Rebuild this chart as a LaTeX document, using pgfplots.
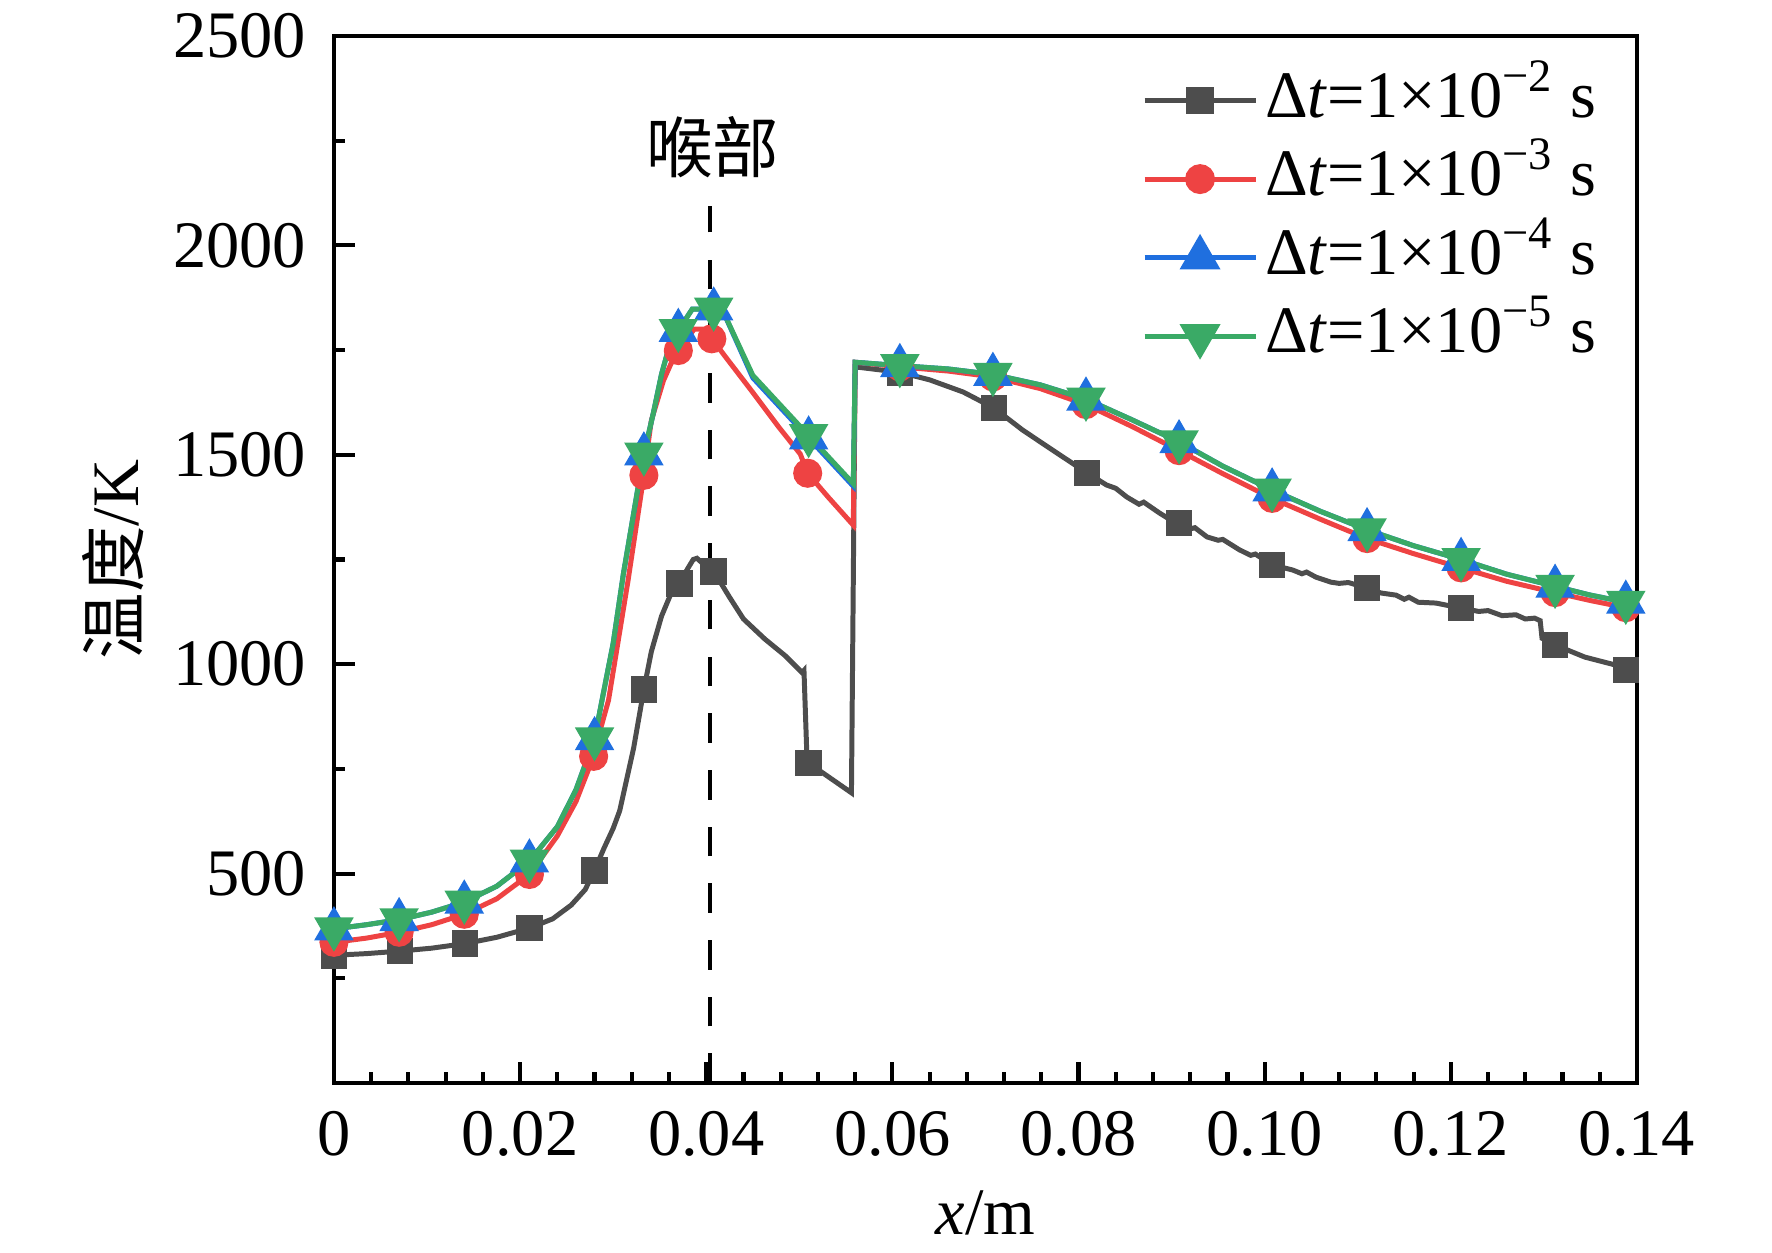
\documentclass[border=0pt]{standalone}
\usepackage{fontspec}
\setmainfont{Liberation Serif}
\newfontfamily\cjk{Noto Sans CJK SC}
\usepackage{pgfplots}
\pgfplotsset{compat=1.18}
\definecolor{cblack}{HTML}{4D4D4D}
\definecolor{cred}{HTML}{EE4343}
\definecolor{cblue}{HTML}{1F6FDF}
\definecolor{cgreen}{HTML}{3AAA66}
\begin{document}
\fontsize{16}{19.2}\selectfont
\begin{tikzpicture}
\path[use as bounding box] (-2.827,-1.431) rectangle (12.173,9.168);
\begin{axis}[
  scale only axis, width=11.03cm, height=8.863cm,
  at={(0,0)}, anchor=south west,
  xmin=0, xmax=0.14, ymin=0, ymax=2500,
  xtick={0,0.02,0.04,0.06,0.08,0.10,0.12,0.14},
  xticklabels={0,0.02,0.04,0.06,0.08,0.10,0.12,0.14},
  ytick={0,500,1000,1500,2000,2500},
  yticklabels={,500,1000,1500,2000,2500},
  minor x tick num=4, minor y tick num=1,
  tick align=inside, xtick pos=bottom, ytick pos=left,
  major tick length=0.18cm, minor tick length=0.09cm,
  tick style={black, line width=1pt},
  line width=1pt,
  axis line style={line width=1pt},
  clip=false,
  tick label style={font=\fontsize{16}{19.2}\selectfont},
  label style={font=\fontsize{16}{19.2}\selectfont},
  xticklabel style={anchor=base, inner sep=0pt, yshift=-0.61cm},
  yticklabel style={anchor=east, inner sep=0pt, xshift=-0.22cm},
  xlabel={\textit{x}/m},
  xlabel style={at={(axis description cs:0.5,-0.1445)}, anchor=base},
  ylabel={{\cjk 温度}/K},
  ylabel style={at={(axis description cs:-0.1695,0.5)}, anchor=center},
  legend image code/.code={\draw[mark repeat=2,mark phase=2,#1] plot coordinates {(0cm,0cm) (0.47cm,0cm) (0.94cm,0cm)};},
  legend cell align=left,
  legend style={draw=none, fill=none, at={(axis cs:0.0866,2430)}, anchor=north west,
    inner sep=0pt, row sep=2.9pt, column sep=0.06cm,
    nodes={inner sep=0pt, text height=12pt, text depth=4pt},
    font=\fontsize{16}{19.2}\selectfont},
]
\addlegendimage{cblack, line width=1.2pt, mark=square*, mark size=2.7pt, mark options={solid}}
\addlegendentry{Δ\textit{t}=1×10\textsuperscript{−2} s}
\addlegendimage{cred, line width=1.2pt, mark=*, mark size=3pt, mark options={solid}}
\addlegendentry{Δ\textit{t}=1×10\textsuperscript{−3} s}
\addlegendimage{cblue, line width=1.2pt, mark=triangle*, mark size=4.5pt, mark options={solid}}
\addlegendentry{Δ\textit{t}=1×10\textsuperscript{−4} s}
\addlegendimage{cgreen, line width=1.2pt, mark=triangle*, mark size=4.5pt, mark options={solid, rotate=180}}
\addlegendentry{Δ\textit{t}=1×10\textsuperscript{−5} s}

% dashed throat line
\addplot[black, line width=1pt, dash pattern=on 0.25cm off 0.23cm, forget plot] coordinates {(0.0404,0) (0.0404,2095)};

% black series
\addplot[cblack, line width=1.2pt, forget plot] coordinates {
(0,305) (0.0035,309) (0.0071,315) (0.0105,322) (0.0141,333) (0.0175,348) (0.0210,370)
(0.0235,392) (0.0255,425) (0.0270,462) (0.0280,508) (0.0290,560) (0.0300,608) (0.0307,650)
(0.0314,720) (0.0322,800) (0.0333,940) (0.0341,1030) (0.0352,1115) (0.0362,1168) (0.0371,1193)
(0.0380,1228) (0.0386,1250) (0.0390,1253) (0.0395,1243) (0.0401,1245) (0.0408,1222)
(0.0425,1160) (0.0440,1108) (0.0463,1060) (0.0485,1020) (0.0503,980) (0.0505,985)
(0.0508,790) (0.0510,764) (0.0556,693) (0.0560,1710) (0.0608,1697) (0.0640,1679) (0.0676,1650)
(0.0709,1612) (0.0740,1559) (0.0777,1504) (0.0809,1457) (0.0830,1428) (0.0840,1420) (0.0852,1399)
(0.0865,1382) (0.0870,1387) (0.0887,1361) (0.0895,1350) (0.0900,1352) (0.0908,1337) (0.0920,1323)
(0.0925,1326) (0.0938,1304) (0.0950,1296) (0.0955,1298) (0.0973,1273) (0.0985,1260) (0.0990,1263)
(0.1008,1237) (0.1030,1225) (0.1040,1216) (0.1045,1220) (0.1055,1208) (0.1071,1196) (0.1080,1193)
(0.1090,1195) (0.1110,1182) (0.1125,1170) (0.1141,1165) (0.1150,1155) (0.1155,1160) (0.1165,1148)
(0.1184,1146) (0.1211,1134) (0.1230,1126) (0.1240,1128) (0.1255,1116) (0.1270,1118) (0.1280,1108)
(0.1290,1110) (0.1296,1104) (0.1298,1062) (0.1312,1046) (0.1344,1017) (0.1377,998) (0.1388,986)
};
\addplot[cblack, only marks, mark=square*, mark size=2.7pt, forget plot] coordinates {
(0,305) (0.0071,315) (0.0141,333) (0.0210,370) (0.0280,508) (0.0333,940) (0.0371,1193)
(0.0408,1222) (0.0510,764) (0.0608,1695) (0.0709,1612) (0.0809,1457) (0.0908,1337)
(0.1008,1237) (0.1110,1182) (0.1211,1134) (0.1312,1046) (0.1388,986)
};

% red series
\addplot[cred, line width=1.2pt, forget plot] coordinates {
(0,336) (0.0035,346) (0.0070,360) (0.0105,378) (0.0140,403) (0.0175,440) (0.0210,498)
(0.0240,590) (0.0260,672) (0.0279,780) (0.0287,850) (0.0295,914) (0.0316,1200) (0.0333,1451)
(0.0341,1582) (0.0354,1677) (0.0362,1717) (0.0370,1749) (0.0387,1800) (0.0400,1800) (0.0406,1777)
(0.0421,1733) (0.0450,1649) (0.0478,1566) (0.0501,1502) (0.0509,1456) (0.0531,1399) (0.0558,1332)
(0.0560,1721) (0.0608,1710) (0.0660,1700) (0.0708,1686) (0.0759,1658) (0.0808,1620) (0.0858,1567)
(0.0908,1510) (0.0955,1455) (0.1008,1396) (0.1060,1346) (0.1110,1300) (0.1160,1264) (0.1211,1230)
(0.1260,1198) (0.1312,1171) (0.1350,1152) (0.1388,1135)
};
\addplot[cred, only marks, mark=*, mark size=3pt, forget plot] coordinates {
(0,336) (0.0070,360) (0.0140,403) (0.0210,498) (0.0279,780) (0.0333,1451) (0.0370,1749)
(0.0406,1777) (0.0509,1456) (0.0608,1710) (0.0708,1686) (0.0808,1620) (0.0908,1510)
(0.1008,1396) (0.1110,1300) (0.1211,1230) (0.1312,1171) (0.1388,1135)
};

% blue series
\addplot[cblue, line width=1.2pt, forget plot] coordinates {
(0,368) (0.0035,378) (0.0070,390) (0.0105,408) (0.0140,432) (0.0175,470) (0.0210,530)
(0.0240,612) (0.0260,700) (0.0280,822) (0.0288,914) (0.0300,1050) (0.0311,1216) (0.0328,1439)
(0.0333,1502) (0.0343,1598) (0.0352,1693) (0.0362,1773) (0.0370,1797) (0.0385,1848) (0.0417,1848)
(0.0450,1684) (0.0510,1540) (0.0558,1425) (0.0560,1721) (0.0608,1713) (0.0660,1705) (0.0708,1692)
(0.0759,1667) (0.0808,1633) (0.0858,1583) (0.0908,1531) (0.0955,1473) (0.1008,1416) (0.1060,1365)
(0.1110,1321) (0.1160,1283) (0.1211,1250) (0.1260,1215) (0.1312,1186) (0.1350,1165) (0.1388,1148)
};
\addplot[cblue, only marks, mark=triangle*, mark size=4.5pt, forget plot] coordinates {
(0,368) (0.0070,390) (0.0140,432) (0.0210,530) (0.0280,822) (0.0333,1502) (0.0370,1797)
(0.0408,1848) (0.0510,1540) (0.0608,1713) (0.0708,1692) (0.0808,1633) (0.0908,1531)
(0.1008,1416) (0.1110,1321) (0.1211,1250) (0.1312,1186) (0.1388,1148)
};

% green series
\addplot[cgreen, line width=1.2pt, forget plot] coordinates {
(0,368) (0.0035,378) (0.0070,390) (0.0105,408) (0.0140,432) (0.0175,470) (0.0210,530)
(0.0240,612) (0.0260,700) (0.0280,822) (0.0288,914) (0.0300,1050) (0.0311,1216) (0.0328,1439)
(0.0333,1502) (0.0343,1598) (0.0352,1693) (0.0362,1773) (0.0370,1797) (0.0385,1848) (0.0417,1848)
(0.0450,1690) (0.0510,1546) (0.0558,1431) (0.0560,1721) (0.0608,1713) (0.0660,1705) (0.0708,1692)
(0.0759,1667) (0.0808,1633) (0.0858,1583) (0.0908,1531) (0.0955,1473) (0.1008,1416) (0.1060,1365)
(0.1110,1321) (0.1160,1283) (0.1211,1250) (0.1260,1215) (0.1312,1186) (0.1350,1165) (0.1388,1148)
};
\addplot[cgreen, only marks, mark=triangle*, mark size=4.5pt, mark options={rotate=180}, forget plot] coordinates {
(0,368) (0.0070,390) (0.0140,432) (0.0210,530) (0.0280,822) (0.0333,1502) (0.0370,1797)
(0.0408,1848) (0.0510,1546) (0.0608,1713) (0.0708,1692) (0.0808,1633) (0.0908,1531)
(0.1008,1416) (0.1110,1321) (0.1211,1250) (0.1312,1186) (0.1388,1148)
};

\node[font=\fontsize{16}{19.2}\selectfont\cjk] at (axis cs:0.0407,2235) {喉部};
\end{axis}
\end{tikzpicture}
\end{document}
